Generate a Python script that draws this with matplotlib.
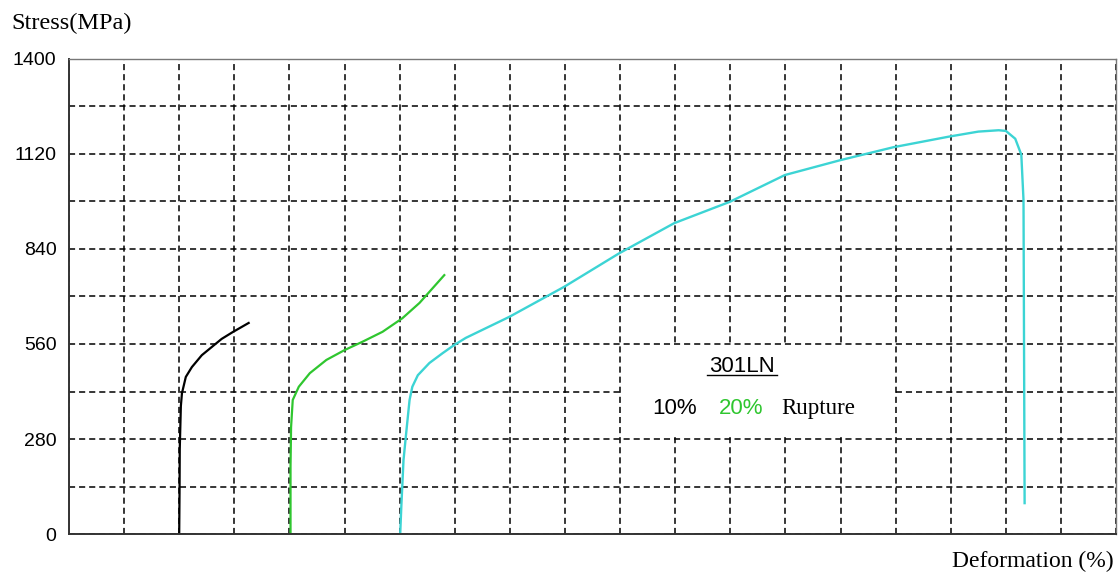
import matplotlib.pyplot as plt
from matplotlib.patches import Rectangle
from matplotlib.ticker import MultipleLocator

# stress-strain readings for 301LN (strain in grid units, stress in MPa)
strain_10 = [2.00, 2.006, 2.01, 2.03, 2.05, 2.12, 2.23, 2.41, 2.59, 2.77, 2.97, 3.26]
stress_10 = [0, 120, 250, 377, 415, 463, 492, 527, 551, 575, 595, 622]

strain_20 = [4.02, 4.02, 4.03, 4.06, 4.17, 4.37, 4.67, 5.00, 5.33, 5.69, 6.05, 6.36, 6.81]
stress_20 = [0, 200, 315, 395, 434, 474, 513, 542, 567, 596, 636, 681, 763]

strain_rup = [6.01, 6.03, 6.07, 6.13, 6.18, 6.23, 6.33, 6.54, 6.78, 6.99, 7.20,
              7.99, 8.99, 9.98, 10.98, 11.99, 12.99, 14.0, 14.96, 15.96, 16.50,
              16.87, 17.0, 17.17, 17.28, 17.32, 17.33, 17.34]
stress_rup = [0, 80, 218, 316, 395, 434, 468, 504, 533, 557, 578,
              640, 729, 827, 916, 979, 1058, 1102, 1140, 1171, 1186,
              1190, 1188, 1165, 1118, 984, 533, 91]

# faint reference trace on the stress axis
strain_ref = [0.0, 0.0]
stress_ref = [0, 230]

y_labels = [0, 280, 560, 840, 1120, 1400]

fig = plt.figure(figsize=(11.18, 5.75), dpi=100)
ax = fig.add_axes([0.0617, 0.0713, 0.9366, 0.8261])

ax.plot(strain_ref, stress_ref, color='#f4b0b0', lw=1.2)
ax.plot(strain_10, stress_10, color='black', lw=1.6)
ax.plot(strain_20, stress_20, color='#2fc62f', lw=1.6)
ax.plot(strain_rup, stress_rup, color='#3cd4d4', lw=1.7)

ax.set_xlim(0, 19)
ax.set_ylim(0, 1400)
ax.xaxis.set_major_locator(MultipleLocator(1))
ax.set_yticks(y_labels)
ax.yaxis.set_minor_locator(MultipleLocator(140))
ax.set_xticklabels([])
ax.tick_params(axis='both', which='both', length=0)
ax.tick_params(axis='y', labelsize=14, pad=9)
for lab in ax.get_yticklabels():
    lab.set_family('Liberation Sans')

grid_kw = dict(color='black', lw=1.1, linestyle=(0, (4, 2.6)))
ax.grid(True, which='major', axis='x', **grid_kw)
ax.grid(True, which='both', axis='y', **grid_kw)
ax.set_axisbelow(True)

for side, sp in ax.spines.items():
    sp.set_color('#333333' if side in ('left', 'bottom') else '#777777')
    sp.set_linewidth(1.4 if side in ('left', 'bottom') else 1.0)

fig.text(0.010, 0.960, 'Stress(MPa)', family='Liberation Serif', fontsize=17.5,
         ha='left', va='center')
fig.text(0.996, 0.024, 'Deformation (%)', family='Liberation Serif', fontsize=17,
         ha='right', va='center')

# legend block on a white panel that hides the inner grid
ax.add_patch(Rectangle((10.04, 286), 4.92, 268, facecolor='white',
                       edgecolor='none', zorder=1))
ax.text(12.21, 495, '301LN', family='Liberation Sans', fontsize=16,
        ha='center', va='center')
ax.plot([11.58, 12.84], [468, 468], color='black', lw=1.0)
ax.text(10.58, 371, '10%', family='Liberation Sans', fontsize=16,
        ha='left', va='center')
ax.text(11.79, 371, '20%', family='Liberation Sans', fontsize=16, color='#2fc62f',
        ha='left', va='center')
ax.text(12.92, 371, 'Rupture', family='Liberation Serif', fontsize=16.5,
        ha='left', va='center')

fig.savefig('out.png', dpi=100)
